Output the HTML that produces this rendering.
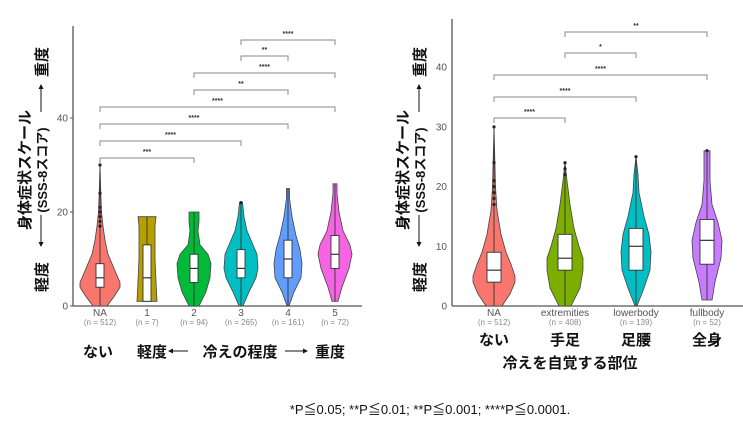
<!DOCTYPE html>
<html><head><meta charset="utf-8"><style>
html,body{margin:0;padding:0;background:#fff;}
svg{display:block;}
text{font-family:"Liberation Sans","Noto Sans CJK JP",sans-serif;}
.tk{font-size:10px;fill:#555;}
.n{font-size:8px;fill:#888;}
.jp{font-size:15px;font-weight:bold;fill:#111;}
.st{font-size:7px;fill:#333;font-weight:bold;}
</style></head><body>
<svg id="s" width="743" height="426" xmlns="http://www.w3.org/2000/svg">
<rect width="743" height="426" fill="#fff"/>
<line x1="73" y1="26" x2="73" y2="306" stroke="#555" stroke-width="1.3"/>
<line x1="73" y1="306" x2="362" y2="306" stroke="#555" stroke-width="1.3"/>
<text class="tk" x="68" y="309.5" text-anchor="end">0</text>
<text class="tk" x="68" y="215.5" text-anchor="end">20</text>
<text class="tk" x="68" y="121.5" text-anchor="end">40</text>
<line x1="70" y1="306" x2="73" y2="306" stroke="#555"/><line x1="70" y1="212" x2="73" y2="212" stroke="#555"/><line x1="70" y1="118" x2="73" y2="118" stroke="#555"/>
<line x1="452" y1="19" x2="452" y2="306" stroke="#555" stroke-width="1.3"/>
<line x1="452" y1="306" x2="743" y2="306" stroke="#555" stroke-width="1.3"/>
<g class="tk" text-anchor="end">
<text x="447" y="309.5">0</text><text x="447" y="250">10</text><text x="447" y="190">20</text><text x="447" y="130.5">30</text><text x="447" y="70.5">40</text></g>
<g id="v"></g>
<g text-anchor="middle">
<text class="tk" x="100" y="316">NA</text><text class="n" x="100" y="325">(n = 512)</text>
<text class="tk" x="147" y="316">1</text><text class="n" x="147" y="325">(n = 7)</text>
<text class="tk" x="194" y="316">2</text><text class="n" x="194" y="325">(n = 94)</text>
<text class="tk" x="241" y="316">3</text><text class="n" x="241" y="325">(n = 265)</text>
<text class="tk" x="288" y="316">4</text><text class="n" x="288" y="325">(n = 161)</text>
<text class="tk" x="335" y="316">5</text><text class="n" x="335" y="325">(n = 72)</text>
<text class="tk" x="494" y="316">NA</text><text class="n" x="494" y="325">(n = 512)</text>
<text class="tk" x="565" y="316">extremities</text><text class="n" x="565" y="325">(n = 408)</text>
<text class="tk" x="636" y="316">lowerbody</text><text class="n" x="636" y="325">(n = 139)</text>
<text class="tk" x="707" y="316">fullbody</text><text class="n" x="707" y="325">(n = 52)</text>
<text class="jp" x="98" y="357">ない</text>
<text class="jp" x="152" y="357">軽度</text>
<text class="jp" x="240" y="357">冷えの程度</text>
<text class="jp" x="330" y="357">重度</text>
<text class="jp" x="494" y="345">ない</text>
<text class="jp" x="565" y="345">手足</text>
<text class="jp" x="636" y="345">足腰</text>
<text class="jp" x="707" y="345">全身</text>
<text class="jp" x="570" y="368">冷えを自覚する部位</text>
</g>
<line x1="172" y1="351" x2="188" y2="351" stroke="#111"/><path d="M168,351 l5,-2.5 v5z" fill="#111"/>
<line x1="285" y1="351" x2="304" y2="351" stroke="#111"/><path d="M308,351 l-5,-2.5 v5z" fill="#111"/>
<g transform="translate(30,170) rotate(-90)"><text class="jp" text-anchor="middle" y="0">身体症状スケール</text></g>
<g transform="translate(47,170) rotate(-90)"><text class="jp" text-anchor="middle" y="0" style="font-size:13px">(SSS-8スコア)</text></g>
<g transform="translate(47,277) rotate(-90)"><text class="jp" text-anchor="middle">軽度</text></g>
<g transform="translate(47,62) rotate(-90)"><text class="jp" text-anchor="middle">重度</text></g>
<line x1="41" y1="215" x2="41" y2="243" stroke="#111"/><path d="M41,247 l-2.5,-5 h5z" fill="#111"/>
<line x1="41" y1="89" x2="41" y2="112" stroke="#111"/><path d="M41,84 l-2.5,5 h5z" fill="#111"/>
<g transform="translate(408,170) rotate(-90)"><text class="jp" text-anchor="middle">身体症状スケール</text></g>
<g transform="translate(425,170) rotate(-90)"><text class="jp" text-anchor="middle" style="font-size:13px">(SSS-8スコア)</text></g>
<g transform="translate(425,277) rotate(-90)"><text class="jp" text-anchor="middle">軽度</text></g>
<g transform="translate(425,62) rotate(-90)"><text class="jp" text-anchor="middle">重度</text></g>
<line x1="419" y1="215" x2="419" y2="243" stroke="#111"/><path d="M419,247 l-2.5,-5 h5z" fill="#111"/>
<line x1="419" y1="89" x2="419" y2="112" stroke="#111"/><path d="M419,84 l-2.5,5 h5z" fill="#111"/>
<text x="430" y="414" text-anchor="middle" style="font-size:13px;fill:#111">*P≦0.05; **P≦0.01; **P≦0.001;  ****P≦0.0001.</text>
</svg>
<script>
var g=document.getElementById('v'),NS='http://www.w3.org/2000/svg';
function el(t,a){var e=document.createElementNS(NS,t);for(var k in a)e.setAttribute(k,a[k]);g.appendChild(e);return e;}
function violin(cx,y0,sc,col,pts,box,bw,mx,mn,outs){
 var L=[],R=[];pts.forEach(function(p){var y=y0-sc*p[0];R.push((cx+p[1])+','+y);L.unshift((cx-p[1])+','+y);});
 el('path',{d:'M'+R.join(' L')+' L'+L.join(' L')+'Z',fill:col,stroke:'#444','stroke-width':0.8});
 el('line',{x1:cx,x2:cx,y1:y0-sc*mn,y2:y0-sc*mx,stroke:'#333','stroke-width':0.9});
 el('rect',{x:cx-bw,y:y0-sc*box[2],width:2*bw,height:sc*(box[2]-box[0]),fill:'#fff',stroke:'#333','stroke-width':0.9});
 el('line',{x1:cx-bw,x2:cx+bw,y1:y0-sc*box[1],y2:y0-sc*box[1],stroke:'#333','stroke-width':1.2});
 (outs||[]).forEach(function(o){el('circle',{cx:cx,cy:y0-sc*o,r:1.6,fill:'#222'});});
}
function br(x1,x2,y,lab){el('path',{d:'M'+x1+','+(y+5)+' V'+y+' H'+x2+' V'+(y+5),fill:'none',stroke:'#888','stroke-width':1});
 var t=el('text',{x:(x1+x2)/2,y:y-4,'text-anchor':'middle','class':'st'});t.textContent=lab;}
var a=4.7;
violin(100,306,a,'#F8766D',[[0,7],[2,14],[4,20],[5,20],[7,16],[9,12],[11,8],[14,5],[17,3],[20,1.5],[24,0.8],[30,0]],[4,6,9],4,30,0,[17,18,19,20,21,24,30]);
violin(147,306,a,'#B79F00',[[1,10],[3,9.5],[10,8],[17,8],[19,9]],[1,6,13],4,19,1);
violin(194,306,a,'#00BA38',[[0,5],[3,12],[6,16],[9,17],[11,14],[13,6],[16,4],[18,5],[20,5]],[5,8,11],4,20,0);
violin(241,306,a,'#00BFC4',[[0,2],[3,8],[6,15],[8,17],[11,16],[13,12],[16,6],[19,3],[22,1.5]],[6,8,12],4,22,0,[22]);
violin(288,306,a,'#619CFF',[[0,1],[3,6],[6,13],[9,14],[12,12],[15,8],[19,4],[23,1.5],[25,1.5]],[6,10,14],4,25,0);
violin(335,306,a,'#F564E3',[[1,3],[4,7],[8,14],[11,17],[13,15],[16,8],[20,4],[24,2],[26,2]],[8,11,15],4,26,1);
var b=5.97;
violin(494,306,b,'#F8766D',[[0,8],[2,16],[4,21],[5,21],[7,17],[9,12],[12,7],[16,3],[20,1.5],[30,0]],[4,6,9],7,30,0,[17,18,19,20,21,24,30]);
violin(565,306,b,'#7CAE00',[[0,6],[3,15],[6,18],[8,18],[10,14],[13,9],[17,5],[21,2],[24,0]],[6,8,12],7,24,0,[22,23,24]);
violin(636,306,b,'#00BFC4',[[0,1],[3,8],[6,14],[9,15],[12,13],[15,8],[19,3],[22,2],[25,0]],[6,10,13],7,25,0,[25]);
violin(707,306,b,'#C77CFF',[[1,5],[4,8],[8,14],[11,15],[14,11],[17,5],[21,3],[25,3],[26,3]],[7,11,14.5],7,26,1,[26]);
br(100,194,158,'***');br(100,241,141,'****');br(100,288,124,'****');br(100,335,107,'****');
br(194,288,90,'**');br(194,335,73,'****');br(241,288,56,'**');br(241,335,40,'****');
br(494,565,118,'****');br(494,636,97,'****');br(494,707,75,'****');br(565,636,53,'*');br(565,707,32,'**');
</script>
</body></html>
